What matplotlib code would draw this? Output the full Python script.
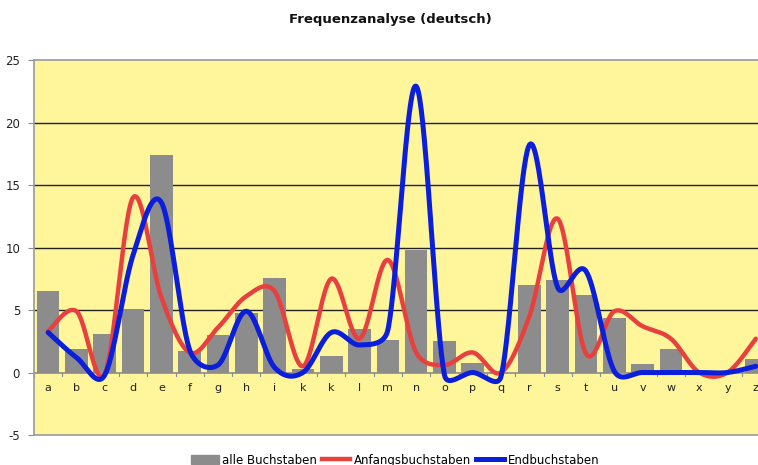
import numpy as np
import matplotlib.pyplot as plt
from matplotlib.patches import Patch
from matplotlib.lines import Line2D

plt.rcParams["axes.unicode_minus"] = False

# letters as printed on the axis (the "j" slot is labelled "k" in the original)
letters = ["a", "b", "c", "d", "e", "f", "g", "h", "i", "k", "k", "l", "m",
           "n", "o", "p", "q", "r", "s", "t", "u", "v", "w", "x", "y", "z"]

alle = [6.5, 1.9, 3.1, 5.1, 17.4, 1.7, 3.0, 4.8, 7.6, 0.3, 1.3, 3.5, 2.6,
        9.8, 2.5, 0.8, 0.0, 7.0, 7.4, 6.2, 4.4, 0.7, 1.9, 0.0, 0.0, 1.1]
anfang = [3.3, 4.9, -0.1, 14.0, 6.0, 1.6, 3.6, 6.1, 6.5, 0.5, 7.5, 2.7, 9.0,
          1.6, 0.6, 1.6, 0.0, 4.5, 12.3, 1.5, 4.9, 3.7, 2.7, 0.0, 0.0, 2.7]
ende = [3.2, 1.2, -0.2, 9.4, 13.6, 1.8, 0.6, 4.9, 0.4, 0.0, 3.2, 2.2, 3.4,
        22.9, -0.2, 0.0, -0.3, 18.2, 6.8, 8.1, 0.1, 0.0, 0.0, 0.0, 0.0, 0.5]

# pixel size of one category / one unit, used to smooth in screen space like Excel
SX, SY = 28.3, 12.5


def smooth(y, n=40):
    # Excel-style smoothed line: Bezier with 1/6 tangents, handles clamped to half a segment
    p = np.column_stack([np.arange(len(y)) * SX, np.asarray(y, float) * SY])
    p = np.vstack([p[:1], p, p[-1:]])
    t = np.linspace(0, 1, n)[:, None]
    out = []
    for i in range(1, len(p) - 2):
        p0, p1, p2, p3 = p[i - 1], p[i], p[i + 1], p[i + 2]
        d12 = np.hypot(*(p2 - p1))
        d02 = np.hypot(*(p2 - p0))
        d13 = np.hypot(*(p3 - p1))
        f1 = 1 / 6 if d02 / 6 < d12 / 2 else d12 / (2 * d02)
        f2 = 1 / 6 if d13 / 6 < d12 / 2 else d12 / (2 * d13)
        c1 = p1 + f1 * (p2 - p0)
        c2 = p2 - f2 * (p3 - p1)
        out.append((1 - t) ** 3 * p1 + 3 * (1 - t) ** 2 * t * c1
                   + 3 * (1 - t) * t ** 2 * c2 + t ** 3 * p2)
    out = np.vstack(out)
    return out[:, 0] / SX, out[:, 1] / SY


fig = plt.figure(figsize=(7.58, 4.65), dpi=100)
ax = fig.add_axes([34 / 758, 30 / 465, 736 / 758, 375 / 465])
ax.set_facecolor("#FFF59B")

x = np.arange(len(letters))
ax.bar(x, alle, width=0.8, color="#8C8C8C", zorder=2)

red = "#E8403F"
blue = "#0A1EDC"
sx, sy = smooth(anfang)
ax.plot(sx, sy, color=red, lw=3.2, zorder=3, solid_capstyle="round")
sx, sy = smooth(ende)
ax.plot(sx, sy, color=blue, lw=3.6, zorder=4, solid_capstyle="round")

ax.set_xlim(-0.5, len(letters) - 0.5)
ax.set_ylim(-5, 25)
ax.set_yticks(range(-5, 26, 5))
for v in [5, 10, 15, 20]:
    ax.axhline(v, color="#222222", lw=1.0, zorder=1)
ax.axhline(0, color="#8C8C8C", lw=1.2, zorder=2.5)

# category tick marks at boundaries, below the zero line
for b in np.arange(-0.5, len(letters), 1.0):
    ax.plot([b, b], [0, -0.25], color="#8C8C8C", lw=0.8, zorder=2.5)
for i, l in enumerate(letters):
    ax.text(i, -1.2, l, ha="center", va="center", fontsize=8, color="#222222")

ax.set_xticks([])
ax.tick_params(axis="y", labelsize=8.5, length=4, color="#8C8C8C", labelcolor="#222222", pad=6)
for s in ["left", "top", "bottom", "right"]:
    ax.spines[s].set_color("#9A9A9A")
    ax.spines[s].set_linewidth(1.2)

fig.text(390 / 758, 1 - 20 / 465, "Frequenzanalyse (deutsch)", ha="center", va="center",
         fontsize=9.5, fontweight="bold", color="#111111")

handles = [Patch(color="#8C8C8C", label="alle Buchstaben"),
           Line2D([], [], color=red, lw=3.2, label="Anfangsbuchstaben"),
           Line2D([], [], color=blue, lw=3.6, label="Endbuchstaben")]
fig.legend(handles=handles, loc="center", bbox_to_anchor=(395 / 758, 5 / 465), ncol=3,
           frameon=False, fontsize=8.5, handlelength=2.4, handletextpad=0.3,
           columnspacing=0.4, borderpad=0, handleheight=0.7)

fig.savefig("out.png", dpi=100)
